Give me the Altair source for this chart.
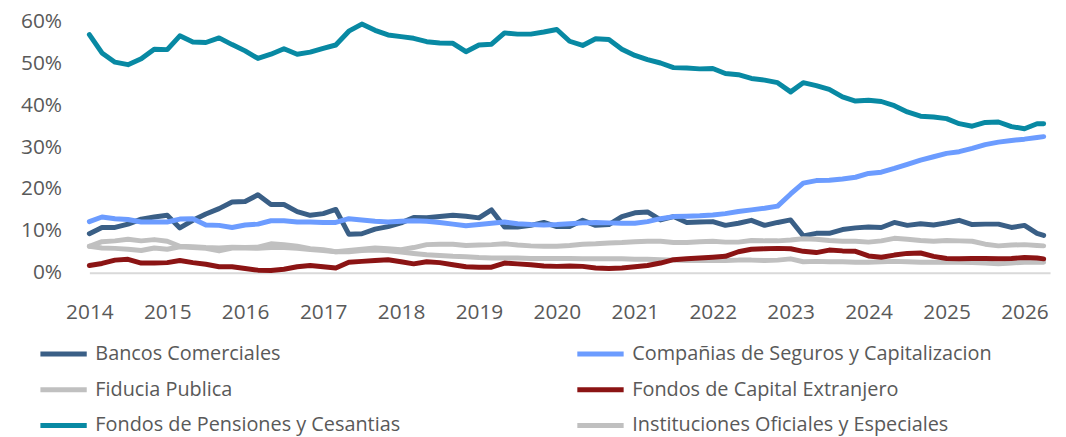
import altair as alt
import pandas as pd

# bimonthly observation dates (Jan 2014 .. Mar 2026) plus the final April 2026 point
dates = list(pd.date_range("2014-01-01", "2026-03-01", freq="2MS").strftime("%Y-%m-%d")) + ["2026-04-01"]

series_names = [
    "Bancos Comerciales",
    "Compañias de Seguros y Capitalizacion",
    "Fiducia Publica",
    "Fondos de Capital Extranjero",
    "Fondos de Pensiones y Cesantias",
    "Instituciones Oficiales y Especiales",
]

bancos = [9.3, 10.8, 10.8, 11.6, 12.8, 13.3, 13.7, 10.7, 12.5, 14.0, 15.3, 16.9,
          17.0, 18.6, 16.3, 16.3, 14.6, 13.7, 14.1, 15.1, 9.2, 9.3, 10.4, 11.0,
          11.9, 13.2, 13.1, 13.4, 13.7, 13.5, 13.1, 15.0, 10.9, 10.9, 11.3, 12.0,
          11.0, 11.0, 12.5, 11.3, 11.5, 13.4, 14.3, 14.5, 12.6, 13.4, 12.0, 12.1,
          12.2, 11.3, 11.8, 12.5, 11.3, 12.0, 12.6, 8.8, 9.4, 9.4, 10.3, 10.7,
          10.9, 10.8, 12.0, 11.3, 11.7, 11.4, 11.9, 12.5, 11.5, 11.6, 11.6, 10.8,
          11.3, 9.4, 8.9]
companias = [12.2, 13.3, 12.9, 12.7, 12.1, 12.1, 12.1, 12.8, 12.9, 11.4, 11.3, 10.8,
             11.4, 11.6, 12.4, 12.4, 12.1, 12.1, 12.0, 12.0, 12.9, 12.6, 12.3, 12.1,
             12.3, 12.4, 12.3, 12.0, 11.6, 11.2, 11.5, 11.8, 12.1, 11.7, 11.5, 11.4,
             11.5, 11.7, 11.9, 12.0, 11.9, 11.8, 11.8, 12.2, 12.9, 13.4, 13.5, 13.6,
             13.8, 14.1, 14.6, 15.0, 15.4, 15.9, 18.8, 21.4, 22.0, 22.1, 22.4, 22.8,
             23.7, 24.0, 24.9, 25.9, 26.9, 27.7, 28.5, 28.9, 29.7, 30.6, 31.2, 31.6,
             31.9, 32.3, 32.5]
fiducia = [6.3, 5.9, 5.8, 5.6, 5.3, 5.9, 5.6, 6.2, 6.0, 5.8, 5.2, 5.9,
           5.9, 5.8, 6.0, 6.0, 5.8, 5.5, 5.3, 5.0, 5.0, 5.3, 5.4, 5.2,
           4.9, 4.6, 4.3, 4.1, 3.9, 3.8, 3.6, 3.5, 3.5, 3.5, 3.4, 3.4,
           3.4, 3.4, 3.3, 3.3, 3.3, 3.3, 3.2, 3.2, 3.1, 3.0, 2.9, 2.9,
           2.9, 2.9, 3.0, 3.0, 2.9, 3.0, 3.3, 2.6, 2.7, 2.6, 2.6, 2.5,
           2.5, 2.6, 2.7, 2.6, 2.5, 2.5, 2.5, 2.5, 2.4, 2.3, 2.1, 2.3,
           2.5, 2.5, 2.5]
capital_ext = [1.7, 2.2, 3.0, 3.2, 2.3, 2.3, 2.4, 2.9, 2.4, 2.0, 1.4, 1.4,
               1.0, 0.6, 0.5, 0.8, 1.4, 1.7, 1.4, 1.1, 2.5, 2.7, 2.9, 3.1,
               2.6, 2.1, 2.6, 2.4, 1.9, 1.4, 1.3, 1.3, 2.3, 2.1, 1.9, 1.6,
               1.5, 1.6, 1.5, 1.1, 1.0, 1.1, 1.4, 1.7, 2.3, 3.1, 3.3, 3.5,
               3.7, 3.9, 5.0, 5.6, 5.7, 5.8, 5.7, 5.1, 4.8, 5.4, 5.2, 5.1,
               4.0, 3.7, 4.2, 4.6, 4.7, 3.9, 3.4, 3.3, 3.4, 3.4, 3.3, 3.4,
               3.6, 3.5, 3.3]
pensiones = [56.9, 52.5, 50.3, 49.7, 51.1, 53.4, 53.3, 56.6, 55.1, 55.0, 56.1, 54.5,
             53.0, 51.2, 52.2, 53.5, 52.2, 52.7, 53.6, 54.4, 57.7, 59.4, 57.9, 56.8,
             56.4, 56.0, 55.2, 54.9, 54.8, 52.8, 54.4, 54.6, 57.3, 57.0, 57.0, 57.5,
             58.1, 55.3, 54.3, 55.9, 55.7, 53.4, 51.9, 50.9, 50.1, 49.0, 48.9, 48.7,
             48.8, 47.6, 47.3, 46.4, 46.0, 45.4, 43.2, 45.4, 44.7, 43.8, 42.0, 41.0,
             41.2, 40.9, 39.9, 38.4, 37.4, 37.2, 36.8, 35.6, 35.0, 35.9, 36.0, 34.9,
             34.4, 35.6, 35.6]
instituciones = [6.3, 7.4, 7.6, 8.0, 7.6, 7.9, 7.5, 6.3, 6.2, 6.0, 5.9, 6.1,
                 6.0, 6.1, 6.9, 6.7, 6.3, 5.7, 5.5, 5.0, 5.3, 5.6, 5.9, 5.7,
                 5.5, 6.0, 6.7, 6.8, 6.8, 6.5, 6.6, 6.7, 6.9, 6.6, 6.4, 6.3,
                 6.3, 6.5, 6.8, 6.9, 7.1, 7.2, 7.4, 7.5, 7.5, 7.2, 7.2, 7.4,
                 7.5, 7.3, 7.3, 7.7, 7.6, 7.6, 7.8, 8.1, 8.0, 7.7, 7.5, 7.5,
                 7.3, 7.6, 8.2, 8.0, 7.7, 7.5, 7.7, 7.6, 7.5, 6.8, 6.4, 6.6,
                 6.7, 6.5, 6.4]

series_values = [bancos, companias, fiducia, capital_ext, pensiones, instituciones]
colors = ["#3a5f86", "#6c9cff", "#c0c0c0", "#8b1414", "#0889a3", "#c0c0c0"]

year_ticks = list(range(2014, 2027))
y_ticks = [0, 10, 20, 30, 40, 50, 60]

rows = []
for name, vals in zip(series_names, series_values):
    for d, v in zip(dates, vals):
        rows.append({"date": d, "series": name, "value": v})
df = pd.DataFrame(rows)

FONT = "Open Sans"
LABEL_COLOR = "#595959"

chart = (
    alt.Chart(df)
    .mark_line(strokeWidth=5, strokeJoin="round", strokeCap="round")
    .encode(
        x=alt.X(
            "date:T",
            scale=alt.Scale(domain=[alt.DateTime(year=2014, month=1, date=1),
                                    alt.DateTime(year=2026, month=5, date=1)]),
            axis=alt.Axis(
                values=[alt.DateTime(year=y, month=1, date=1) for y in year_ticks],
                format="%Y", title=None, ticks=False, grid=False,
                domainColor="#d9d9d9", domainWidth=2,
                labelFont=FONT, labelFontSize=21, labelColor=LABEL_COLOR,
                labelPadding=29, labelFlush=False,
            ),
        ),
        y=alt.Y(
            "value:Q",
            scale=alt.Scale(domain=[0, 60], nice=False),
            axis=alt.Axis(
                values=y_ticks, labelExpr="datum.value + '%'", title=None,
                domain=False, ticks=False, grid=False,
                labelFont=FONT, labelFontSize=21, labelColor=LABEL_COLOR,
                labelPadding=28,
            ),
        ),
        color=alt.Color(
            "series:N",
            scale=alt.Scale(domain=series_names, range=colors),
            legend=alt.Legend(
                title=None, orient="none", legendX=-52, legendY=309,
                columns=2, direction="horizontal", gridAlign="all",
                columnPadding=112, rowPadding=0,
                symbolType="stroke", symbolStrokeWidth=5, symbolSize=2180,
                labelFont=FONT, labelFontSize=20, labelColor=LABEL_COLOR,
                labelOffset=6, labelLimit=500,
            ),
        ),
    )
    .properties(
        width=968, height=253,
        autosize=alt.AutoSizeParams(type="none"),
        padding={"left": 82, "top": 12, "right": 8, "bottom": 175},
    )
    .configure_view(stroke=None)
)

chart.save("out.html", embed_options={"renderer": "svg", "actions": False})
